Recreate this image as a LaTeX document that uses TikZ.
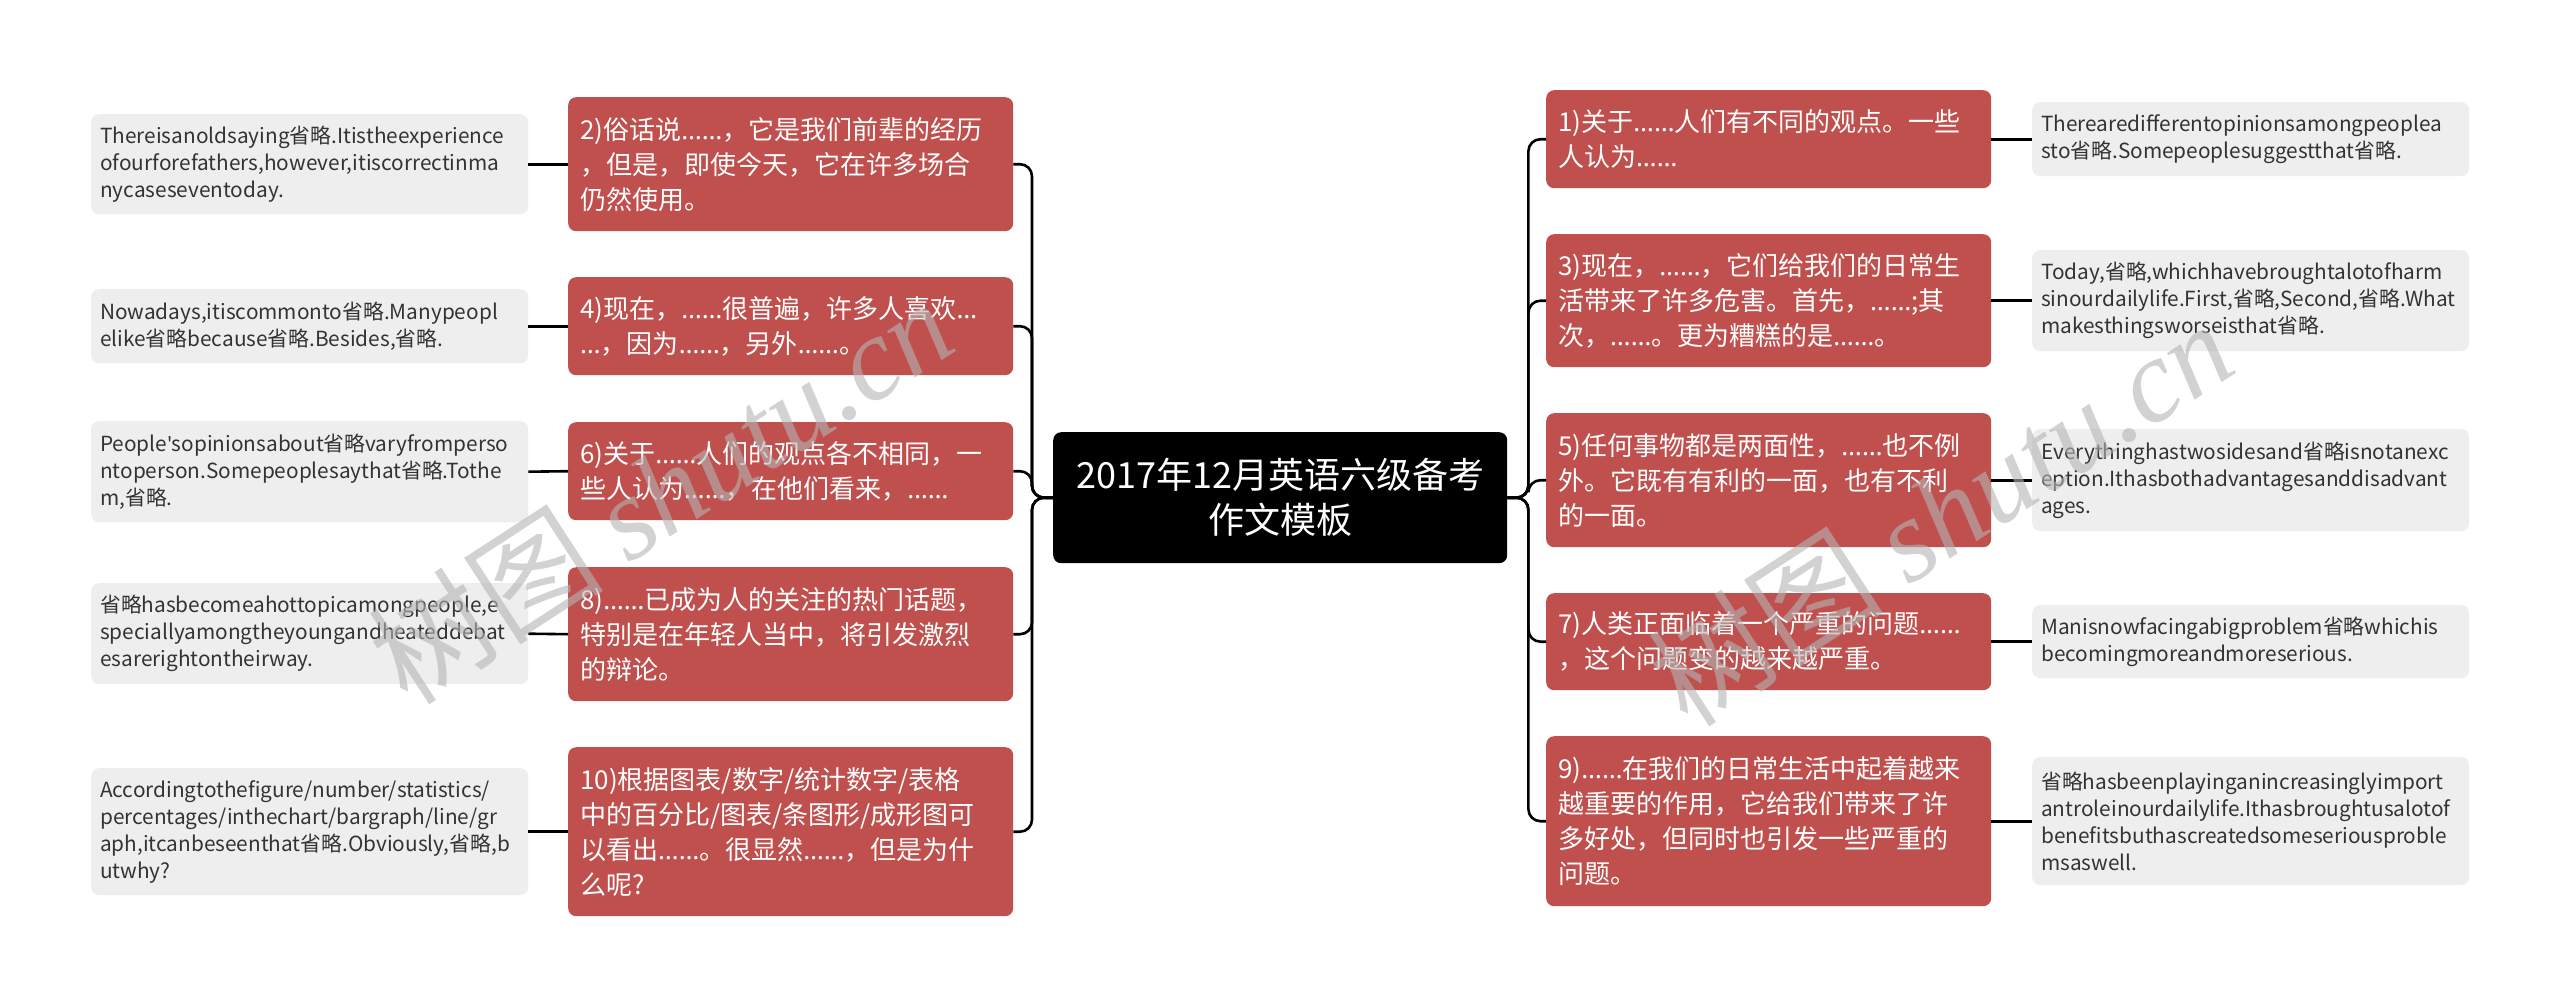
\documentclass[tikz,border=0pt]{standalone}
\usepackage{fontspec}
\setmainfont{Noto Sans CJK SC}
\newfontfamily\wmserif{Liberation Serif}
\newfontfamily\latinf{Noto Sans}
\newcommand\elp{{\latinf …}}
\newcommand\elpp{{\latinf ……}}
\newcommand\apos{{\latinf\symbol{39}}}
\definecolor{redc}{HTML}{C0504D}
\definecolor{grayfill}{HTML}{EEEEEE}
\definecolor{graytext}{HTML}{333333}
\definecolor{wmc}{RGB}{180,180,180}
\tikzset{
  redbox/.style={anchor=north west, fill=redc, rounded corners=8pt, text=white,
    font=\fontsize{26pt}{35pt}\selectfont, minimum width=445pt, text width=421pt,
    inner xsep=12pt, inner ysep=0pt, align=left},
  graybox/.style={anchor=north west, fill=grayfill, rounded corners=8pt, text=graytext,
    font=\fontsize{20.8pt}{27pt}\selectfont, minimum width=437pt, text width=419pt,
    inner xsep=9pt, inner ysep=0pt, align=left},
  rootbox/.style={anchor=north west, fill=black, rounded corners=8pt, text=white,
    font=\fontsize{36pt}{45pt}\selectfont, minimum width=454pt, minimum height=131pt,
    text width=430pt, inner xsep=12pt, inner ysep=0pt, align=center},
  conn/.style={draw=black, line width=2.6pt, rounded corners=12pt},
  wmark/.style={text=wmc, opacity=0.6, rotate=33, font=\fontsize{118pt}{120pt}\selectfont}
}
\begin{document}
\begin{tikzpicture}[x=1pt,y=-1pt]
\useasboundingbox (0,0) rectangle (2560,1007);
\fill[white] (0,0) rectangle (2560,1007);

% root
\node[rootbox] (root) at (1053,432) {2017年12月英语六级备考\\作文模板};

% left red boxes
\node[redbox, minimum height=134pt] (b2) at (568,97) {2)俗话说\elpp，它是我们前辈的经历\\，但是，即使今天，它在许多场合\\仍然使用。};
\node[redbox, minimum height=98pt] (b4) at (568,277) {4)现在，\elpp 很普遍，许多人喜欢\elp\\\elp，因为\elpp，另外\elpp。};
\node[redbox, minimum height=98pt] (b6) at (568,422) {6)关于\elpp 人们的观点各不相同，一\\些人认为\elpp，在他们看来，\elpp};
\node[redbox, minimum height=134pt] (b8) at (568,567) {8)\elpp 已成为人的关注的热门话题，\\特别是在年轻人当中，将引发激烈\\的辩论。};
\node[redbox, minimum height=169pt] (b10) at (568,747) {10)根据图表/数字/统计数字/表格\\中的百分比/图表/条图形/成形图可\\以看出\elpp。很显然\elpp，但是为什\\么呢?};

% right red boxes
\node[redbox, minimum height=98pt] (b1) at (1546,90) {1)关于\elpp 人们有不同的观点。一些\\人认为\elpp};
\node[redbox, minimum height=133pt] (b3) at (1546,234) {3)现在，\elpp，它们给我们的日常生\\活带来了许多危害。首先，\elpp;其\\次，\elpp。更为糟糕的是\elpp。};
\node[redbox, minimum height=134pt] (b5) at (1546,413) {5)任何事物都是两面性，\elpp 也不例\\外。它既有有利的一面，也有不利\\的一面。};
\node[redbox, minimum height=97pt] (b7) at (1546,593) {7)人类正面临着一个严重的问题\elpp\\，这个问题变的越来越严重。};
\node[redbox, minimum height=170pt] (b9) at (1546,736) {9)\elpp 在我们的日常生活中起着越来\\越重要的作用，它给我们带来了许\\多好处，但同时也引发一些严重的\\问题。};

% left gray boxes
\node[graybox, minimum height=100pt] (g2) at (91,114) {Thereisanoldsaying省略.Itistheexperience\\ofourforefathers,however,itiscorrectinma\\nycaseseventoday.};
\node[graybox, minimum height=74pt] (g4) at (91,289) {Nowadays,itiscommonto省略.Manypeopl\\elike省略because省略.Besides,省略.};
\node[graybox, minimum height=101pt] (g6) at (91,421) {People\apos sopinionsabout省略varyfromperso\\ntoperson.Somepeoplesaythat省略.Tothe\\m,省略.};
\node[graybox, minimum height=101pt] (g8) at (91,583) {省略hasbecomeahottopicamongpeople,e\\speciallyamongtheyoungandheateddebat\\esarerightontheirway.};
\node[graybox, minimum height=127pt] (g10) at (91,768) {Accordingtothefigure/number/statistics/\\percentages/inthechart/bargraph/line/gr\\aph,itcanbeseenthat省略.Obviously,省略,b\\utwhy?};

% right gray boxes
\node[graybox, minimum height=74pt] (g1) at (2032,102) {Therearedifferentopinionsamongpeoplea\\sto省略.Somepeoplesuggestthat省略.};
\node[graybox, minimum height=101pt] (g3) at (2032,250) {Today,省略,whichhavebroughtalotofharm\\sinourdailylife.First,省略,Second,省略.What\\makesthingsworseisthat省略.};
\node[graybox, minimum height=102pt] (g5) at (2032,429) {Everythinghastwosidesand省略isnotanexc\\eption.Ithasbothadvantagesanddisadvant\\ages.};
\node[graybox, minimum height=73pt] (g7) at (2032,605) {Manisnowfacingabigproblem省略whichis\\becomingmoreandmoreserious.};
\node[graybox, minimum height=128pt] (g9) at (2032,757) {省略hasbeenplayinganincreasinglyimport\\antroleinourdailylife.Ithasbroughtusalotof\\benefitsbuthascreatedsomeseriousproble\\msaswell.};

% connectors root -> red
\foreach \b in {b2,b4,b6,b8,b10}
  \draw[conn] (root.west) -- ++(-21,0) |- (\b.east);
\foreach \b in {b1,b3,b5,b7,b9}
  \draw[conn] (root.east) -- ++(21,0) |- (\b.west);

% connectors red -> gray
\draw[conn] (b2.west) -- (g2.east);
\draw[conn] (b4.west) -- (g4.east);
\draw[conn] (b6.west) -- (g6.east);
\draw[conn] (b8.west) -- (g8.east);
\draw[conn] (b10.west) -- (g10.east);
\draw[conn] (b1.east) -- (g1.west);
\draw[conn] (b3.east) -- (g3.west);
\draw[conn] (b5.east) -- (g5.west);
\draw[conn] (b7.east) -- (g7.west);
\draw[conn] (b9.east) -- (g9.west);

% watermarks
\node[wmark] (wm1) at (660,490) {树图 {\wmserif\itshape shutu.cn}};
\node[wmark] (wm2) at (1940,512) {树图 {\wmserif\itshape shutu.cn}};
\end{tikzpicture}
\end{document}
